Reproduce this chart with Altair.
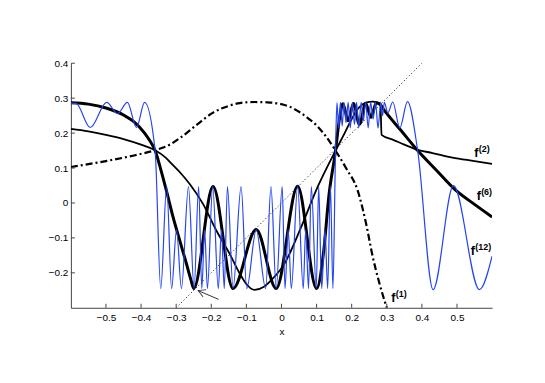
import altair as alt
import pandas as pd

# ---------------- data ----------------
ident_x = [-0.3, 0.4]
ident_y = [-0.3, 0.4]

f1_x = [-0.6, -0.5, -0.42, -0.36, -0.32, -0.285, -0.24, -0.196, -0.15, -0.119, -0.077,
        -0.04, -0.006, 0.035, 0.07, 0.1, 0.127, 0.154, 0.185, 0.217, 0.241, 0.26, 0.279, 0.3]
f1_y = [0.103, 0.12, 0.136, 0.151, 0.166, 0.189, 0.225, 0.258, 0.278, 0.286, 0.289,
        0.288, 0.284, 0.27, 0.247, 0.222, 0.19, 0.15, 0.098, 0.036, -0.059, -0.154, -0.23, -0.3]

f2_x = [-0.6, -0.55, -0.5, -0.45, -0.4, -0.36, -0.33, -0.309, -0.285, -0.262, -0.224,
        -0.186, -0.148, -0.119, -0.1, -0.077, -0.05, -0.029, 0.009, 0.056, 0.103, 0.154,
        0.18, 0.2, 0.22, 0.24, 0.26, 0.282, 0.285, 0.32, 0.35, 0.388, 0.43, 0.487, 0.55, 0.6]
f2_y = [0.212, 0.205, 0.195, 0.183, 0.167, 0.151, 0.13, 0.108, 0.083, 0.055, -0.002,
        -0.078, -0.145, -0.202, -0.232, -0.249, -0.24, -0.221, -0.173, -0.069, 0.046, 0.15,
        0.2, 0.24, 0.272, 0.287, 0.29, 0.284, 0.195, 0.18, 0.167, 0.152, 0.143, 0.13, 0.12, 0.112]

f6_x = [-0.6, -0.55, -0.5, -0.45, -0.42, -0.39, -0.375, -0.36, -0.345, -0.328, -0.309,
        -0.29, -0.271, -0.258, -0.25, -0.195, -0.138, -0.072, -0.015, 0.046, 0.1, 0.12,
        0.135, 0.154, 0.165, 0.175, 0.19, 0.205, 0.222, 0.24, 0.255, 0.27, 0.28, 0.293,
        0.34, 0.388, 0.44, 0.497, 0.55, 0.6]
f6_y = [0.287, 0.283, 0.272, 0.252, 0.232, 0.2, 0.178, 0.15, 0.1, 0.036, -0.04,
        -0.107, -0.173, -0.22, -0.245, 0.047, -0.245, -0.076, -0.245, 0.048, -0.245, -0.14,
        0.02, 0.15, 0.24, 0.284, 0.235, 0.285, 0.225, 0.285, 0.245, 0.286, 0.283, 0.265,
        0.208, 0.15, 0.095, 0.036, -0.004, -0.04]

f12_x = [-0.6, -0.585, -0.545, -0.498, -0.467, -0.439, -0.413, -0.39, -0.36,
         -0.344, -0.327, -0.313, -0.299, -0.285, -0.265, -0.249, -0.236, -0.227, -0.219,
         -0.211, -0.196, -0.18, -0.171, -0.163, -0.154, -0.138, -0.115, -0.099, -0.072,
         -0.045, -0.03, -0.015, 0.002, 0.01, 0.019, 0.028, 0.046, 0.062, 0.069, 0.077,
         0.085, 0.099, 0.106, 0.1145, 0.124, 0.1315, 0.1395, 0.1465, 0.154,
         0.158, 0.163, 0.168, 0.173, 0.178, 0.184, 0.19, 0.196, 0.202, 0.208, 0.214,
         0.22, 0.227, 0.233, 0.24, 0.247, 0.254, 0.261, 0.268, 0.275, 0.283, 0.288,
         0.293, 0.303, 0.317, 0.337, 0.359, 0.388, 0.432, 0.49, 0.564, 0.6]
f12_y = [0.286, 0.285, 0.216, 0.288, 0.256, 0.288, 0.216, 0.288, 0.15,
         -0.245, 0.048, -0.245, -0.077, -0.245, 0.047, -0.245, 0.047, -0.245, -0.077,
         -0.245, 0.048, -0.245, -0.077, -0.245, 0.047, -0.245, 0.047, -0.245, -0.077,
         -0.245, 0.047, -0.245, 0.047, -0.245, -0.077, -0.245, 0.048, -0.245, -0.077, -0.245,
         0.047, -0.245, 0.047, -0.245, -0.077, -0.245, 0.048, -0.245, 0.15,
         0.287, 0.215, 0.288, 0.22, 0.288, 0.23, 0.288, 0.215, 0.288, 0.225, 0.288,
         0.215, 0.288, 0.235, 0.288, 0.215, 0.288, 0.24, 0.288, 0.215, 0.288, 0.25,
         0.288, 0.258, 0.289, 0.215, 0.29, 0.15, -0.248, 0.05, -0.248, -0.152]

arrow_x = [-0.179, -0.2374]
arrow_y = [-0.276, -0.2509]

label_x = [0.313, 0.549, 0.556, 0.539]
label_y = [-0.284, 0.133, 0.0077, -0.149]
label_sup = ["(1)", "(2)", "(6)", "(12)"]

xticks = [-0.5, -0.4, -0.3, -0.2, -0.1, 0, 0.1, 0.2, 0.3, 0.4, 0.5]
yticks = [-0.2, -0.1, 0, 0.1, 0.2, 0.3, 0.4]

# ---------------- chart ----------------
W, H = 422, 245
FONT = "Liberation Sans"
LABEL_EXPR = "replace(format(datum.value, '.1~f'), '-', '\u2212')"

xscale = alt.Scale(domain=[-0.6, 0.6], nice=False, zero=False)
yscale = alt.Scale(domain=[-0.3, 0.4], nice=False, zero=False)
xaxis = alt.Axis(values=xticks, title="x", ticks=False, grid=False, labelPadding=5,
                 titlePadding=4, labelExpr=LABEL_EXPR)
yaxis = alt.Axis(values=yticks, title=None, ticks=False, grid=False, labelPadding=3,
                 labelExpr=LABEL_EXPR)


def X(field="x"):
    return alt.X(f"{field}:Q", scale=xscale, axis=xaxis)


def Y(field="y"):
    return alt.Y(f"{field}:Q", scale=yscale, axis=yaxis)


def series(xs, ys):
    return pd.DataFrame({"x": xs, "y": ys, "i": list(range(len(xs)))})


ident = alt.Chart(series(ident_x, ident_y)).mark_line(
    color="black", strokeWidth=1, strokeDash=[1, 2.5], clip=True
).encode(x=X(), y=Y(), order="i:Q")

f1 = alt.Chart(series(f1_x, f1_y)).mark_line(
    color="black", strokeWidth=2.2, strokeDash=[7, 3, 2, 3], interpolate="monotone", clip=True
).encode(x=X(), y=Y(), order="i:Q")

f2 = alt.Chart(series(f2_x, f2_y)).mark_line(
    color="black", strokeWidth=1.8, interpolate="monotone", clip=True
).encode(x=X(), y=Y(), order="i:Q")

f6 = alt.Chart(series(f6_x, f6_y)).mark_line(
    color="black", strokeWidth=3, interpolate="monotone", clip=True
).encode(x=X(), y=Y(), order="i:Q")

f12 = alt.Chart(series(f12_x, f12_y)).mark_line(
    color="#2545f0", strokeWidth=1.2, interpolate="monotone", clip=True
).encode(x=X(), y=Y(), order="i:Q")

arrow_line = alt.Chart(series(arrow_x, arrow_y)).mark_line(
    color="black", strokeWidth=0.8
).encode(x=X(), y=Y(), order="i:Q")

arrow_head = alt.Chart(series(arrow_x[1:], arrow_y[1:])).mark_point(
    shape="M -1 -0.55 L 0 0 L -1 0.55", filled=False, stroke="black", strokeWidth=0.9,
    size=196, angle=203
).encode(x=X(), y=Y())

labels_df = pd.DataFrame({"x": label_x, "y": label_y, "sup": label_sup})
lab_f = alt.Chart(labels_df).mark_text(
    text="f", font=FONT, fontSize=12.5, fontWeight="bold", align="left", baseline="alphabetic"
).encode(x=X(), y=Y())
lab_sup = alt.Chart(labels_df).mark_text(
    font=FONT, fontSize=9, fontWeight="bold", align="left", baseline="alphabetic", dx=4.5, dy=-5
).encode(x=X(), y=Y(), text="sup:N")

xtick_df = pd.DataFrame({"x": xticks})
ytick_df = pd.DataFrame({"y": yticks})
xt = alt.Chart(xtick_df).mark_rule(color="#444", strokeWidth=1).encode(
    x=X(), y=alt.value(H), y2=alt.value(H - 4))
yt = alt.Chart(ytick_df).mark_rule(color="#444", strokeWidth=1).encode(
    y=Y(), x=alt.value(0), x2=alt.value(4))

chart = alt.layer(ident, f1, f2, f6, f12, arrow_line, arrow_head, lab_f, lab_sup, xt, yt).properties(
    width=W, height=H,
    autosize=alt.AutoSizeParams(type="none"),
    padding={"left": 63, "top": 55, "right": 45, "bottom": 60},
).configure_view(strokeWidth=0).configure_axis(
    labelFont=FONT, labelFontSize=10, labelColor="black", titleFont=FONT, titleFontSize=10,
    titleFontWeight="normal", titleColor="black", domainColor="#444", domainWidth=1
)

chart.save("out.html", embed_options={"renderer": "svg", "actions": False})
